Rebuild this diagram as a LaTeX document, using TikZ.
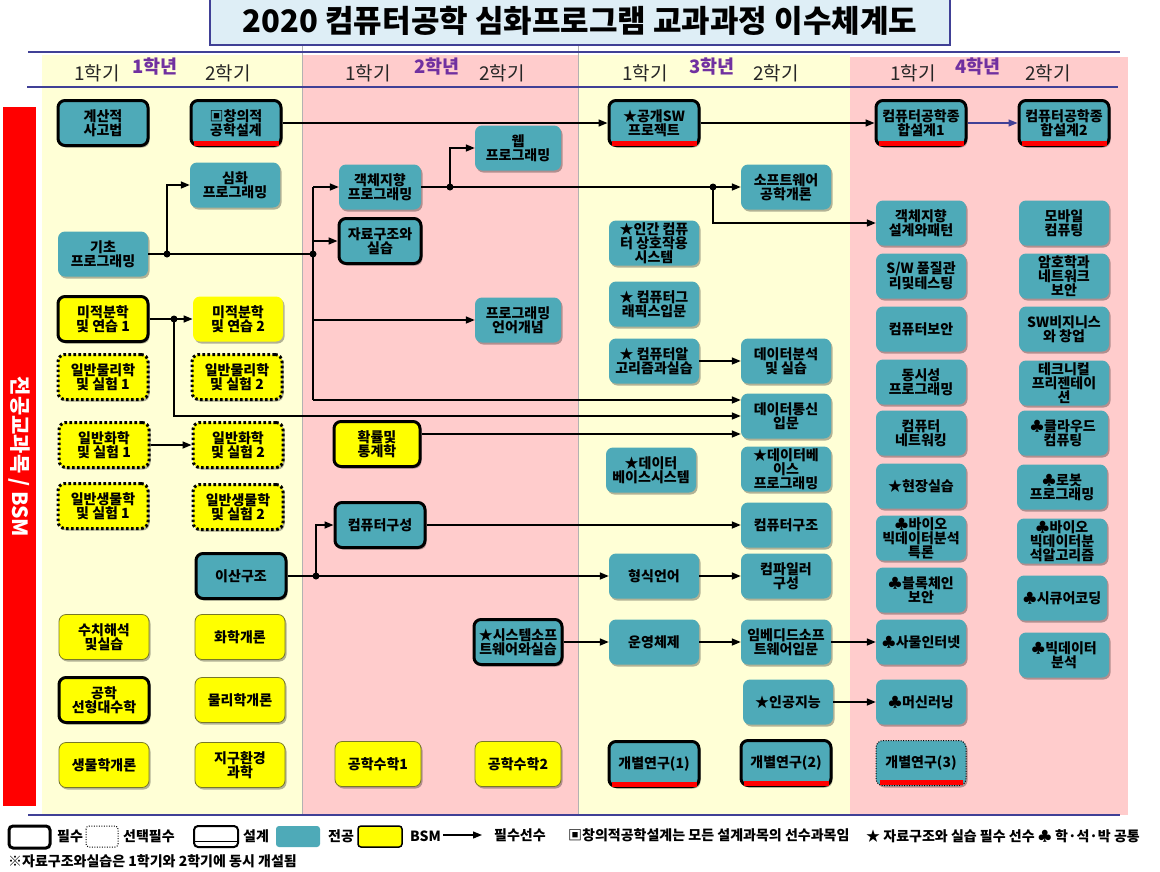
\documentclass[tikz,border=0pt]{standalone}
\usepackage{fontspec}
\setmainfont{Noto Sans CJK KR}
\usetikzlibrary{arrows.meta,shadows}
\definecolor{tealc}{RGB}{78,170,184}
\definecolor{yel}{RGB}{255,255,0}
\definecolor{lyel}{RGB}{255,255,214}
\definecolor{lpink}{RGB}{255,204,204}
\definecolor{purp}{RGB}{112,48,160}
\definecolor{bline}{RGB}{64,64,150}
\definecolor{titlef}{RGB}{222,238,246}
\definecolor{bsmb}{RGB}{120,120,40}
\tikzset{
 crs/.style={rounded corners=7pt, minimum width=90pt, minimum height=45pt, align=center, inner sep=1pt,
   font=\bfseries\fontsize{14}{14}\selectfont,
   drop shadow={shadow xshift=1.5pt,shadow yshift=-2pt,opacity=0.3,fill=black}},
 maj/.style={crs, fill=tealc},
 bsm/.style={crs, fill=yel, draw=bsmb, line width=0.8pt},
 req/.style={draw=black, line width=3pt},
 opt/.style={draw=black, line width=3pt, dash pattern=on 2.6pt off 2.4pt},
 optthin/.style={draw=black, line width=1pt, dash pattern=on 1pt off 1.5pt},
 arr/.style={line width=1.6pt, -{Triangle[length=9pt,width=7pt]}},
 ln/.style={line width=1.6pt},
 dsg/.style={red, line width=4.5pt},
 sem/.style={font=\fontsize{19}{19}\selectfont, text=black!85},
 yr/.style={font=\bfseries\fontsize{18.5}{18.5}\selectfont, text=purp},
 leg/.style={font=\bfseries\fontsize{14}{15}\selectfont, anchor=west, inner sep=0pt},
}
\newcommand\redbar[1]{\draw[dsg] ([xshift=4pt,yshift=3.5pt]#1.south west) -- ([xshift=-4pt,yshift=3.5pt]#1.south east);}
\begin{document}
\begin{tikzpicture}[x=1pt,y=-1pt]
\useasboundingbox (0,0) rectangle (1160,871);
\fill[white] (0,0) rectangle (1160,871);
% year bands
\fill[lyel] (42,55) rectangle (302,815);
\fill[lpink] (302,55) rectangle (578,815);
\fill[lyel] (578,55) rectangle (850,815);
\fill[lpink] (850,57) rectangle (1128,815);
\draw[black!30, line width=0.6pt] (302,45) -- (302,815) (578,45) -- (578,815);
% lines
\draw[bline, line width=2.5pt] (28,52) -- (1120,52);
\draw[bline, line width=2.5pt] (27,87) -- (1118,87);
\draw[bline, line width=2.5pt] (28,815) -- (1120,815);
% title
\draw[bline, line width=2pt, fill=titlef] (210,-5) rectangle (950,45);
\node (title) at (580,21) {\bfseries\fontsize{31}{32}\selectfont 2020 컴퓨터공학 심화프로그램 교과과정 이수체계도};
% headers
\node[sem] (s11) at (97,73) {1학기}; \node[yr] (y1) at (155,67) {1학년}; \node[sem] (s12) at (228,73) {2학기};
\node[sem] (s21) at (368,73) {1학기}; \node[yr] (y2) at (437,67) {2학년}; \node[sem] (s22) at (502,73) {2학기};
\node[sem] (s31) at (645,73) {1학기}; \node[yr] (y3) at (712,67) {3학년}; \node[sem] (s32) at (776,73) {2학기};
\node[sem] (s41) at (913,73) {1학기}; \node[yr] (y4) at (978,67) {4학년}; \node[sem] (s42) at (1048,73) {2학기};
% left bar
\fill[red] (3,107) rectangle (36,806);
\node[rotate=-90, text=white, font=\bfseries\fontsize{21}{21}\selectfont] (side) at (19,457) {전공교과목 / BSM};
% column 1
\node[maj,req] (A1) at (103,123) {계산적\\사고법};
\node[maj] (A2) at (103,254) {기초\\프로그래밍};
\node[bsm,req] (A3) at (103,319) {미적분학\\및 연습 1};
\node[bsm,opt] (A4) at (103,377) {일반물리학\\및 실험 1};
\node[bsm,opt] (A5) at (104,445) {일반화학\\및 실험 1};
\node[bsm,opt] (A6) at (103,506) {일반생물학\\및 실험 1};
\node[bsm] (A7) at (104,637) {수치해석\\및실습};
\node[bsm,req] (A8) at (104,700) {공학\\선형대수학};
\node[bsm] (A9) at (104,765) {생물학개론};
% column 2
\node[maj,req] (B1) at (236,123) {▣창의적\\공학설계};
\node[maj] (B2) at (235,185) {심화\\프로그래밍};
\node[bsm,draw=none] (B3) at (238,319) {미적분학\\및 연습 2};
\node[bsm,opt] (B4) at (237,377) {일반물리학\\및 실험 2};
\node[bsm,opt] (B5) at (238,445) {일반화학\\및 실험 2};
\node[bsm,opt] (B6) at (238,507) {일반생물학\\및 실험 2};
\node[maj,req] (B7) at (241,576) {이산구조};
\node[bsm] (B8) at (240,637) {화학개론};
\node[bsm] (B9) at (240,700) {물리학개론};
\node[bsm] (B10) at (240,765) {지구환경\\과학};
% column 3
\node[maj, minimum width=82pt] (C1) at (380,187) {객체지향\\프로그래밍};
\node[maj,req, minimum width=82pt] (C2) at (380,241) {자료구조와\\실습};
\node[bsm,req, minimum width=86pt] (C3) at (377,444) {확률및\\통계학};
\node[maj,req] (C4) at (380,525) {컴퓨터구성};
\node[bsm, minimum width=86pt] (C5) at (378,764) {공학수학1};
% column 4
\node[maj, minimum width=86pt] (D1) at (518,148) {웹\\프로그래밍};
\node[maj, minimum width=86pt] (D2) at (518,320) {프로그래밍\\언어개념};
\node[maj,req, minimum width=88pt] (D3) at (518,642) {★시스템소프\\트웨어와실습};
\node[bsm, minimum width=86pt] (D4) at (518,764) {공학수학2};
% column 5
\node[maj,req] (E1) at (654,123) {★공개SW\\프로젝트};
\node[maj] (E2) at (654,243) {★인간 컴퓨\\터 상호작용\\시스템};
\node[maj] (E3) at (654,304) {★ 컴퓨터그\\래픽스입문};
\node[maj] (E4) at (654,361) {★ 컴퓨터알\\고리즘과실습};
\node[maj] (E5) at (651,470) {★데이터\\베이스시스템};
\node[maj] (E6) at (654,576) {형식언어};
\node[maj] (E7) at (654,642) {운영체제};
\node[maj,req] (E8) at (654,764) {개별연구(1)};
% column 6
\node[maj] (F1) at (786,187) {소프트웨어\\공학개론};
\node[maj] (F2) at (786,361) {데이터분석\\및 실습};
\node[maj] (F3) at (786,416) {데이터통신\\입문};
\node[maj] (F4) at (786,469) {★데이터베\\이스\\프로그래밍};
\node[maj] (F5) at (786,525) {컴퓨터구조};
\node[maj] (F6) at (786,576) {컴파일러\\구성};
\node[maj] (F7) at (786,642) {임베디드소프\\트웨어입문};
\node[maj] (F8) at (788,702) {★인공지능};
\node[maj,req] (F9) at (786,763) {개별연구(2)};
% column 7
\node[maj,req] (G1) at (921,123) {컴퓨터공학종\\합설계1};
\node[maj] (G2) at (921,223) {객체지향\\설계와패턴};
\node[maj] (G3) at (921,276) {S/W 품질관\\리및테스팅};
\node[maj] (G4) at (921,329) {컴퓨터보안};
\node[maj] (G5) at (921,382) {동시성\\프로그래밍};
\node[maj] (G6) at (921,433) {컴퓨터\\네트워킹};
\node[maj] (G7) at (921,486) {★현장실습};
\node[maj] (G8) at (921,538) {♣바이오\\빅데이터분석\\특론};
\node[maj] (G9) at (921,590) {♣블록체인\\보안};
\node[maj] (G10) at (921,642) {♣사물인터넷};
\node[maj] (G11) at (921,702) {♣머신러닝};
\node[maj,optthin] (G12) at (921,763) {개별연구(3)};
% column 8
\node[maj,req] (H1) at (1064,123) {컴퓨터공학종\\합설계2};
\node[maj] (H2) at (1064,223) {모바일\\컴퓨팅};
\node[maj] (H3) at (1064,276) {암호학과\\네트워크\\보안};
\node[maj] (H4) at (1064,329) {SW비지니스\\와 창업};
\node[maj] (H5) at (1064,383) {테크니컬\\프리젠테이\\션};
\node[maj] (H6) at (1063,433) {♣클라우드\\컴퓨팅};
\node[maj] (H7) at (1062,487) {♣로봇\\프로그래밍};
\node[maj] (H8) at (1062,541) {♣바이오\\빅데이터분\\석알고리즘};
\node[maj] (H9) at (1062,598) {♣시큐어코딩};
\node[maj] (H10) at (1064,655) {♣빅데이터\\분석};
% design bars
\redbar{B1} \redbar{E1} \redbar{G1} \redbar{H1} \redbar{E8} \redbar{F9} \redbar{G12}
% junctions
\coordinate (j1) at (167,254);
\coordinate (j2) at (313,254);
\coordinate (v1) at (313,400);
\coordinate (j3) at (174,319);
\coordinate (v2) at (174,416);
\coordinate (h1) at (430,434);
\coordinate (j4) at (450,187);
\coordinate (j5) at (713,187);
\coordinate (j6) at (316,576);
% connectors
\draw[arr] (B1) -- (E1);
\draw[arr] (E1) -- (G1);
\draw[arr, bline, line width=1.2pt] (G1) -- (H1);
\draw[ln] (A2.east) -- (j2);
\draw[arr] (j1) |- (B2.west);
\draw[ln] (j2 |- C1) -- (v1);
\draw[arr] (j2 |- C1) -- (C1.west);
\draw[arr] (j2 |- C2) -- (C2.west);
\draw[arr] (j2 |- D2) -- (D2.west);
\draw[arr] (v1) -- (v1 -| F3.west);
\draw[arr] (A3) -- (B3);
\draw[arr] (j3) -- (v2) -- (v2 -| F3.west);
\draw[arr] (C3.east |- h1) -- (h1 -| F3.west);
\draw[arr] (C1) -- (F1);
\draw[arr] (j4) |- (D1.west);
\draw[arr] (j5) |- (G2.west);
\draw[arr] (E4) -- (F2);
\draw[arr] (C4) -- (F5);
\draw[arr] (B7) -- (E6);
\draw[arr] (j6) |- (C4.west);
\draw[arr] (E6) -- (F6);
\draw[arr] (D3) -- (E7);
\draw[arr] (E7) -- (F7);
\draw[arr] (F7) -- (G10);
\draw[arr] (F8) -- (G11);
\draw[arr] (A5) -- (B5);
\foreach \j in {j1,j2,j3,j4,j5,j6} \fill (\j) circle (3.5pt);
% legend
\draw[line width=3pt, rounded corners=4pt, fill=white] (9,826) rectangle (50,848);
\node[leg] (l1) at (57,836) {필수};
\draw[line width=1pt, dash pattern=on 1pt off 1.5pt, rounded corners=3pt] (86,826) rectangle (118,847);
\node[leg] (l2) at (123,836) {선택필수};
\draw[line width=2pt, rounded corners=4pt] (194,826) rectangle (238,847);
\draw[line width=1pt] (195,841) -- (237,841);
\node[leg] (l3) at (243,836) {설계};
\fill[tealc, rounded corners=3pt] (276,826) rectangle (320,847);
\node[leg] (l4) at (328,836) {전공};
\draw[line width=1.5pt, fill=yel, rounded corners=3pt] (358,826) rectangle (402,847);
\node[leg] (l5) at (410,836) {BSM};
\coordinate (la) at (443,835);
\coordinate (lb) at (482,835);
\draw[arr, line width=1.2pt] (la) -- (lb);
\node[leg] (l6) at (494,835) {필수선수};
\node[leg] (l7) at (568,835) {▣창의적공학설계는 모든 설계과목의 선수과목임};
\node[leg] (l8) at (866,836) {★ 자료구조와 실습 필수 선수 ♣ 학·석·박 공통};
\node[leg] (l9) at (8,861) {※자료구조와실습은 1학기와 2학기에 동시 개설됨};
\end{tikzpicture}
\end{document}
